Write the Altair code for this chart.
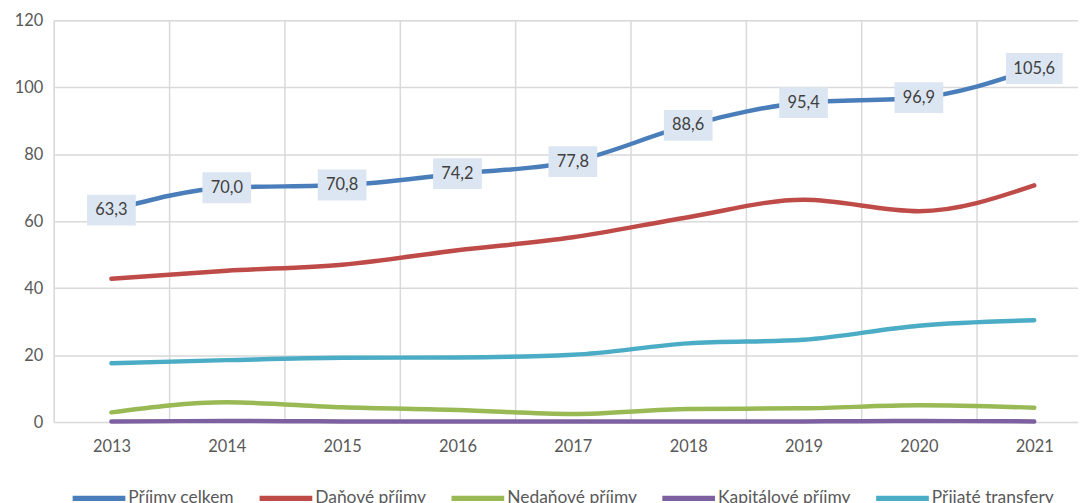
import altair as alt
import pandas as pd

years = ["2013", "2014", "2015", "2016", "2017", "2018", "2019", "2020", "2021"]
series_names = ["Příjmy celkem", "Daňové příjmy", "Nedaňové příjmy", "Kapitálové příjmy", "Přijaté transfery"]
prijmy_celkem = [63.3, 70.0, 70.8, 74.2, 77.8, 88.6, 95.4, 96.9, 105.6]
danove = [42.8, 45.2, 47.0, 51.3, 55.2, 61.2, 66.4, 63.0, 70.7]
nedanove = [2.9, 5.9, 4.4, 3.6, 2.4, 3.9, 4.1, 5.0, 4.3]
kapitalove = [0.2, 0.3, 0.2, 0.2, 0.2, 0.2, 0.2, 0.3, 0.2]
transfery = [17.6, 18.5, 19.2, 19.3, 20.1, 23.5, 24.6, 28.8, 30.4]
colors = ["#4A7EBB", "#BE4B48", "#98B954", "#7D60A0", "#4BACC6"]

values = [prijmy_celkem, danove, nedanove, kapitalove, transfery]
rows = []
for name, vals in zip(series_names, values):
    for y, v in zip(years, vals):
        rows.append({"year": y, "series": name, "value": v})
df = pd.DataFrame(rows)
df_total = pd.DataFrame({"year": years, "value": prijmy_celkem})

font = "Lato"
fs = 16.5
x_enc = alt.X(
    "year:O",
    bandPosition=0.5,
    scale=alt.Scale(type="band", paddingInner=0, paddingOuter=0, range=[0, 1044]),
    axis=alt.Axis(title=None, tickBand="extent", grid=True, ticks=False, domain=False,
                  labelAngle=0, labelPadding=17, labelFontSize=fs, labelColor="#595959",
                  labelFont=font, gridColor="#D9D9D9", gridWidth=1.5),
)
y_scale = alt.Scale(domain=[0, 120])

lines = alt.Chart(df).mark_line(interpolate="monotone", strokeWidth=4.5, strokeCap="round").encode(
    x=x_enc,
    y=alt.Y("value:Q", scale=y_scale,
            axis=alt.Axis(title=None, values=[0, 20, 40, 60, 80, 100, 120], ticks=False, domain=False,
                          labelPadding=11, labelFontSize=fs, labelColor="#595959", labelFont=font,
                          gridColor="#D9D9D9", gridWidth=1.5)),
    color=alt.Color("series:N", scale=alt.Scale(domain=series_names, range=colors),
                    legend=alt.Legend(title=None, orient="none", legendX=16, legendY=451,
                                      direction="horizontal", symbolType="stroke",
                                      symbolSize=2809, symbolStrokeWidth=5.5,
                                      labelFontSize=17.5, labelFont=font, labelColor="#595959",
                                      labelOffset=0, columnPadding=14)),
    strokeWidth=alt.condition(alt.datum.series == "Příjmy celkem", alt.value(6.5), alt.value(4.5)),
    order=alt.Order("order:Q"),
).transform_calculate(order="indexof(%s, datum.series) * -1" % str(series_names))

box_w = 49
boxes = alt.Chart(df_total).transform_calculate(
    label="replace(format(datum.value, '.1f'), '.', ',')",
).transform_calculate(
    box="length(datum.label) > 4 ? 'M-1.163,-0.633L1.163,-0.633L1.163,0.633L-1.163,0.633Z' : 'M-1,-0.633L1,-0.633L1,0.633L-1,0.633Z'"
).mark_point(filled=True, fill="#DCE6F2", opacity=1, strokeWidth=0, size=box_w * box_w).encode(
    x=x_enc,
    y=alt.Y("value:Q", scale=y_scale),
    shape=alt.Shape("box:N", scale=None),
)

texts = alt.Chart(df_total).transform_calculate(
    label="replace(format(datum.value, '.1f'), '.', ',')",
).mark_text(font=font, fontSize=fs, color="#404040", baseline="middle", align="center").encode(
    x=x_enc,
    y=alt.Y("value:Q", scale=y_scale),
    text="label:N",
)

chart = alt.layer(lines, boxes, texts).properties(
    width=1030, height=404,
    autosize=alt.AutoSizeParams(type="none"),
    padding={"left": 46, "top": 11, "right": 0, "bottom": 80},
).configure_view(stroke=None).configure(background="white")

chart.save("out.html", embed_options={"renderer": "svg", "actions": False})
